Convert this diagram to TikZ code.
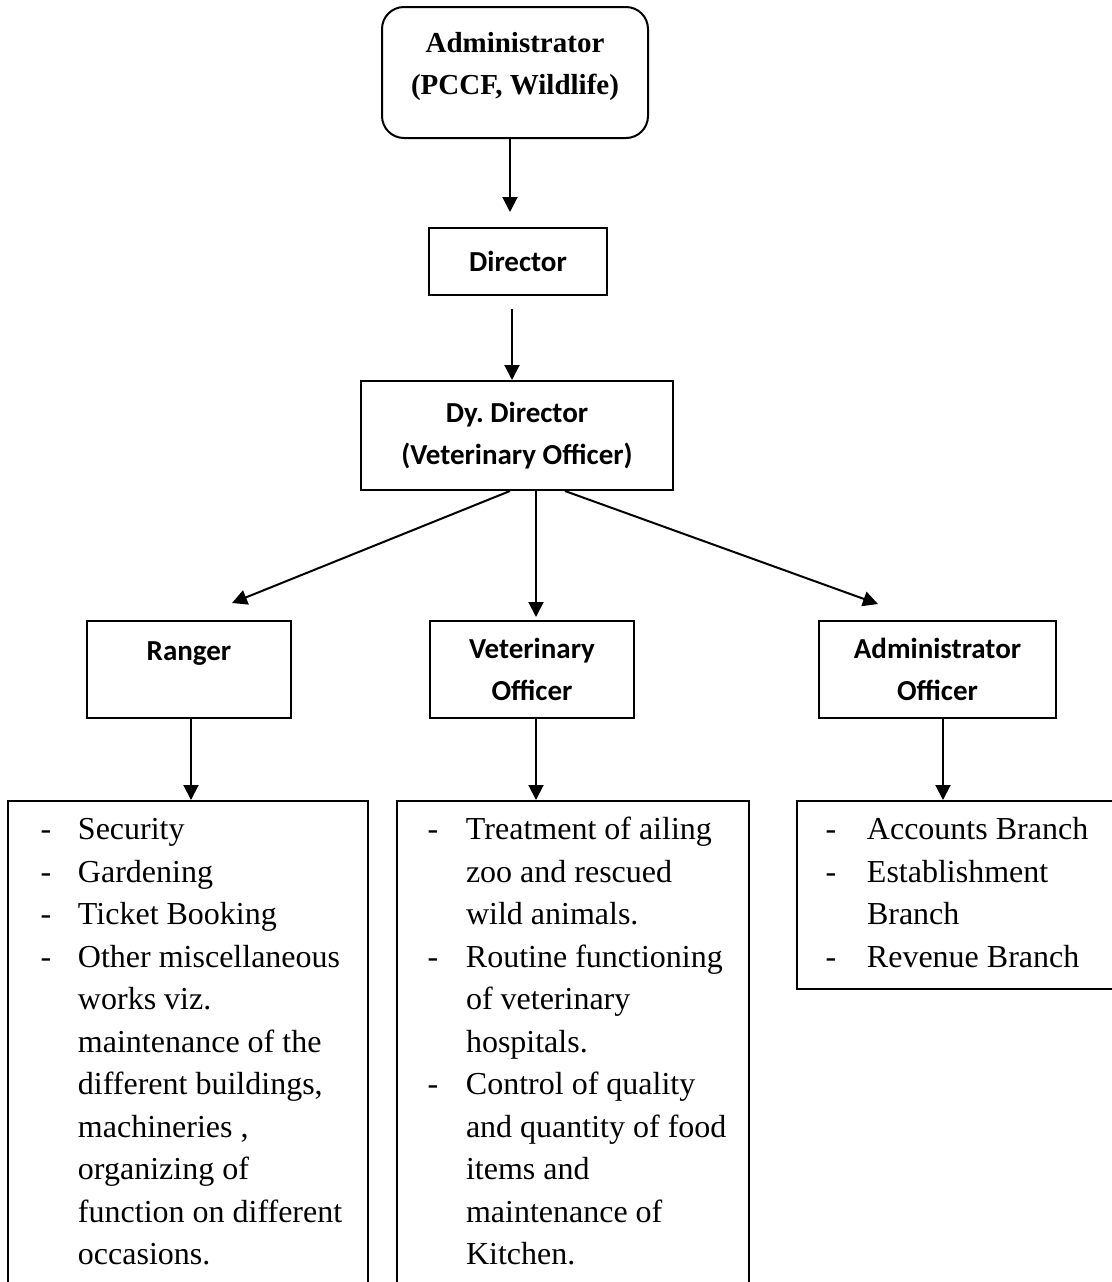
\documentclass[tikz,border=0pt]{standalone}
\usepackage{fontspec}
\setmainfont{Liberation Serif}
\newfontfamily\calfont{Carlito}
\usetikzlibrary{arrows.meta}
\tikzset{
	postbox/.style={draw, line width=1pt, align=center, inner sep=0pt, font=\calfont\bfseries\fontsize{14.5}{21}\selectfont},
	worklist/.style={draw, line width=1pt, anchor=north west, inner xsep=0pt, inner ysep=4.5pt, font=\fontsize{16}{21.25}\selectfont},
	link/.style={line width=1pt, -{Triangle[length=7.5pt,width=7.5pt]}}
}

\begin{document}
\begin{tikzpicture}[x=0.5pt, y=-0.5pt]
			%%%%% START %%%%%
			\useasboundingbox (0, 0) rectangle (1112, 1282);
			
			\node[draw, line width=1pt, rounded corners=11pt, minimum width=133pt, minimum height=65.5pt, inner sep=0pt, font=\bfseries\fontsize{14.5}{21}\selectfont, text depth=34.6pt] (admin) at (515, 72.5) {\begin{tabular}[t]{@{}c@{}}Administrator\\(PCCF, Wildlife)\end{tabular}};
			
			\node[postbox, minimum width=89pt, minimum height=33.5pt] (director) at (518, 261.5) {Director};
			\node[postbox, minimum width=156pt, minimum height=54.5pt] (dydir) at (517, 435.5) {Dy.\ Director\\(Veterinary Officer)};
			
			\node[postbox, minimum width=102pt, minimum height=48.5pt, text height=10pt, text depth=19.2pt] (ranger) at (189, 669.5) {Ranger};
			\node[postbox, minimum width=102pt, minimum height=48.5pt] (vetoff) at (532, 669.5) {Veterinary\\Officer};
			\node[postbox, minimum width=118.5pt, minimum height=48.5pt] (admoff) at (937.5, 669.5) {Administrator\\Officer};
			
			% duties
			\node[worklist] (rangerwork) at (7, 800) {\begin{tabular}{@{\hspace{16.3pt}}p{18.7pt}@{}p{145pt}@{}}
				-&Security\\
				-&Gardening\\
				-&Ticket Booking\\
				-&Other miscellaneous\\
				&works viz.\\
				&maintenance of the\\
				&different buildings,\\
				&machineries ,\\
				&organizing of\\
				&function on different\\
				&occasions.
			\end{tabular}};
			\node[worklist] (vetwork) at (396, 800) {\begin{tabular}{@{\hspace{15.3pt}}p{19.2pt}@{}p{141.5pt}@{}}
				-&Treatment of ailing\\
				&zoo and rescued\\
				&wild animals.\\
				-&Routine functioning\\
				&of veterinary\\
				&hospitals.\\
				-&Control of quality\\
				&and quantity of food\\
				&items and\\
				&maintenance of\\
				&Kitchen.
			\end{tabular}};
			\node[worklist] (admwork) at (796, 800) {\begin{tabular}{@{\hspace{14.3pt}}p{20.7pt}@{}p{140pt}@{}}
				-&Accounts Branch\\
				-&Establishment\\
				&Branch\\
				-&Revenue Branch
			\end{tabular}};
			
			% arrows
			\draw[link] ([xshift=-2.5pt]admin.south) -- ([xshift=-4pt, yshift=7.5pt]director.north);
			\draw[link] ([xshift=-3pt, yshift=-6.5pt]director.south) -- ([xshift=-2.5pt]dydir.north);
			
			\draw[link] ([xshift=-3.5pt]dydir.south) -- ([xshift=21.5pt, yshift=8.5pt]ranger.north);
			\draw[link] ([xshift=9.5pt]dydir.south) -- ([xshift=2pt, yshift=1.5pt]vetoff.north);
			\draw[link] ([xshift=24pt]dydir.south) -- ([xshift=-29.75pt, yshift=8pt]admoff.north);
			
			\draw[link] ([xshift=1pt]ranger.south) -- ([xshift=1pt]ranger.south |- rangerwork.north);
			\draw[link] ([xshift=2pt]vetoff.south) -- ([xshift=2pt]vetoff.south |- vetwork.north);
			\draw[link] ([xshift=2.75pt]admoff.south) -- ([xshift=2.75pt]admoff.south |- admwork.north);
			
			%%%%% END %%%%%
		\end{tikzpicture}
\end{document}
